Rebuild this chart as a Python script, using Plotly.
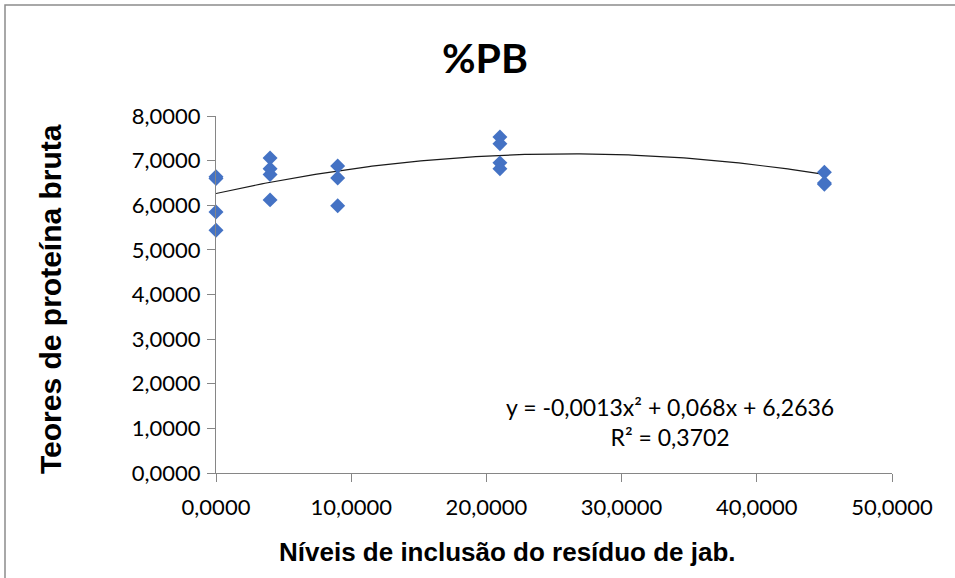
import numpy as np
import plotly.graph_objects as go

# Inclusion levels of the residue and crude-protein contents measured
nivel = [0, 0, 0, 0,
         4, 4, 4, 4,
         9, 9, 9,
         21, 21, 21, 21,
         45, 45, 45]
pb = [6.64, 6.60, 5.85, 5.44,
      7.06, 6.82, 6.69, 6.12,
      6.88, 6.61, 5.99,
      7.53, 7.38, 6.95, 6.82,
      6.74, 6.50, 6.47]

# Second-order polynomial trend (coefficients as reported)
coef_a, coef_b, coef_c = -0.0013, 0.068, 6.2636
r2_text = "0,3702"
eq_text = "y = -0,0013x² + 0,068x + 6,2636"

x_tick_vals = [0, 10, 20, 30, 40, 50]
y_tick_vals = [0, 1, 2, 3, 4, 5, 6, 7, 8]

xs = np.linspace(0, 45, 200)
ys = coef_a * xs ** 2 + coef_b * xs + coef_c

# plot-area geometry in pixels (used to place titles in paper units)
L, R, T, B = 216, 63, 116, 105
W, H = 955, 578
PW, PH = W - L - R, H - T - B


def px(xpix):
    return (xpix - L) / PW


def py(ypix):
    return (H - B - ypix) / PH


fig = go.Figure()
fig.add_trace(go.Scatter(
    x=xs, y=ys, mode="lines",
    line=dict(color="#1a1a1a", width=1.2),
    hoverinfo="skip", showlegend=False,
))
fig.add_trace(go.Scatter(
    x=nivel, y=pb, mode="markers",
    marker=dict(symbol="diamond", size=11.5, color="#4472C4",
                line=dict(width=0)),
    cliponaxis=False, showlegend=False,
))

axis_color = "#868686"
tick_font = dict(family="Lato, Calibri, sans-serif", size=22, color="#000000")

fig.update_layout(
    width=W, height=H,
    margin=dict(l=L, r=R, t=T, b=B),
    paper_bgcolor="white", plot_bgcolor="white",
    separators=",.",
    xaxis=dict(
        range=[0, 50], tickvals=x_tick_vals, tickformat=".4f",
        showgrid=False, zeroline=False,
        showline=True, linecolor=axis_color, linewidth=1.2,
        ticks="outside", ticklen=8, tickcolor=axis_color, tickwidth=1.2,
        tickfont=tick_font, ticklabelstandoff=6,
    ),
    yaxis=dict(
        range=[0, 8], tickvals=y_tick_vals, tickformat=".4f",
        showgrid=False, zeroline=False,
        showline=True, linecolor=axis_color, linewidth=1.2,
        ticks="outside", ticklen=8, tickcolor=axis_color, tickwidth=1.2,
        tickfont=tick_font, ticklabelstandoff=2,
    ),
    annotations=[
        dict(x=px(485), y=py(58), xref="paper", yref="paper",
             text="<b>%PB</b>", showarrow=False,
             xanchor="center", yanchor="middle",
             font=dict(family="Lato, Calibri, sans-serif", size=41, color="#000000")),
        dict(x=px(507), y=py(552), xref="paper", yref="paper",
             text="<b>Níveis de inclusão do resíduo de jab.</b>", showarrow=False,
             xanchor="center", yanchor="middle",
             font=dict(family="Liberation Sans, Arial, sans-serif", size=26, color="#000000")),
        dict(x=px(50), y=py(299), xref="paper", yref="paper",
             text="<b>Teores de proteína bruta</b>", showarrow=False,
             textangle=-90, xanchor="center", yanchor="middle",
             font=dict(family="Liberation Sans, Arial, sans-serif", size=30, color="#000000")),
        dict(x=33.6, y=1.14, xref="x", yref="y",
             text=eq_text + "<br>R² = " + r2_text,
             showarrow=False, align="center",
             font=dict(family="Lato, Calibri, sans-serif", size=23, color="#000000")),
    ],
    shapes=[dict(
        type="rect", xref="paper", yref="paper",
        x0=px(5), x1=2.0, y0=-2.0, y1=py(5),
        line=dict(color="#8c8c8c", width=1.5), fillcolor="rgba(0,0,0,0)",
        layer="below",
    )],
)

fig.write_html("out.html")
